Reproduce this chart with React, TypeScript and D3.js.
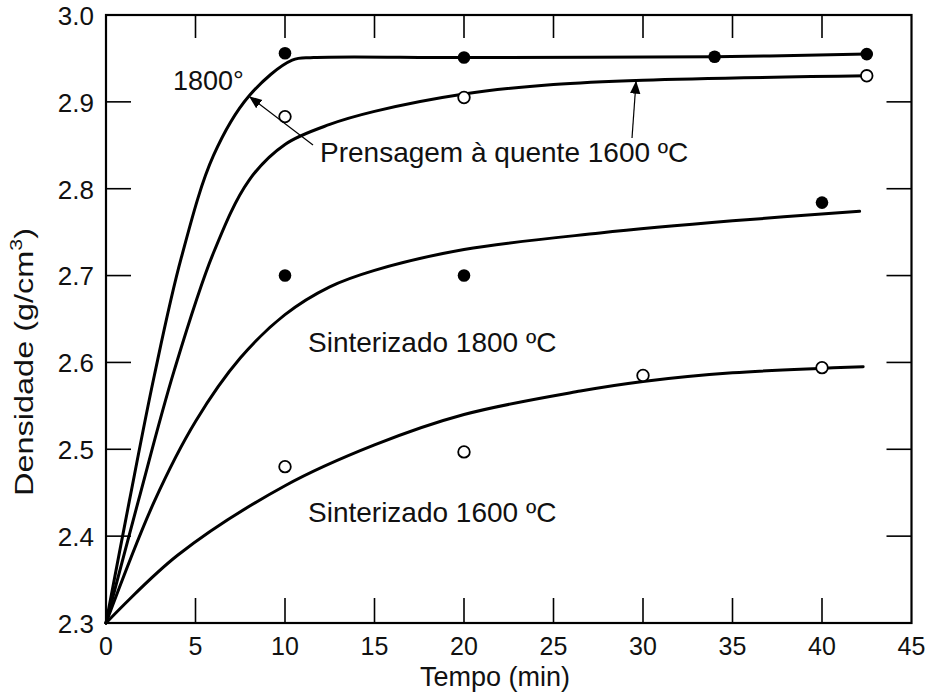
import React from "react";
import * as d3 from "d3";

// Axis ticks
const xTickValues = [0, 5, 10, 15, 20, 25, 30, 35, 40, 45];
const yTickValues = [2.3, 2.4, 2.5, 2.6, 2.7, 2.8, 2.9, 3.0];

// Fitted curves: [time (min), density (g/cm³)]
const hotPress1800Curve: [number, number][] = [
  [0, 2.3], [1.3, 2.44], [2.7, 2.585], [4.2, 2.72], [6.0, 2.838], [8.0, 2.907],
  [10.4, 2.948], [11.6, 2.951], [20, 2.951], [34, 2.952], [42.5, 2.955],
];
const hotPress1600Curve: [number, number][] = [
  [0, 2.3], [1.8, 2.44], [3.8, 2.59], [6.0, 2.726], [8.0, 2.81], [10, 2.851],
  [12.5, 2.874], [15, 2.889], [20, 2.909], [25, 2.92], [30, 2.925], [42.5, 2.93],
];
const sinter1800Curve: [number, number][] = [
  [0, 2.3], [2.7, 2.44], [5, 2.532], [7.5, 2.605], [10, 2.655], [12.5, 2.687],
  [15, 2.706], [20, 2.73], [27.6, 2.749], [35, 2.763], [42.1, 2.774],
];
const sinter1600Curve: [number, number][] = [
  [0, 2.3], [4, 2.378], [10, 2.458], [15, 2.505], [20, 2.54], [26.5, 2.567],
  [30, 2.578], [35, 2.588], [42.3, 2.595],
];

// Measured points
const hotPress1800Points: [number, number][] = [[10, 2.956], [20, 2.951], [34, 2.952], [42.5, 2.955]];
const hotPress1600Points: [number, number][] = [[10, 2.883], [20, 2.905], [42.5, 2.93]];
const sinter1800Points: [number, number][] = [[10, 2.7], [20, 2.7], [40, 2.784]];
const sinter1600Points: [number, number][] = [[10, 2.48], [20, 2.497], [30, 2.585], [40, 2.594]];

const FONT = "'Liberation Sans', Arial, Helvetica, sans-serif";

export default function App() {
  const width = 929;
  const height = 699;
  const x = d3.scaleLinear().domain([0, 45]).range([106, 911.5]);
  const y = d3.scaleLinear().domain([2.3, 3.0]).range([623, 15]);

  const line = d3
    .line<[number, number]>()
    .x((d) => x(d[0]))
    .y((d) => y(d[1]))
    .curve(d3.curveCatmullRom.alpha(0.5));

  const curves = [hotPress1800Curve, hotPress1600Curve, sinter1800Curve, sinter1600Curve];
  const filled = [...hotPress1800Points, ...sinter1800Points];
  const open = [...hotPress1600Points, ...sinter1600Points];

  const innerX = xTickValues.filter((v) => v > 0 && v < 45);
  const innerY = yTickValues.filter((v) => v > 2.3 && v < 3.0);
  const tickLen = 25;

  return (
    <svg
      width={width}
      height={height}
      style={{ position: "absolute", left: 0, top: 0, background: "#fff" }}
      fontFamily={FONT}
    >
      <defs>
        <marker id="arrowHead" viewBox="0 0 10 10" refX="9" refY="5" markerWidth="13" markerHeight="13" markerUnits="userSpaceOnUse" orient="auto">
          <path d="M0,1 L10,5 L0,9 z" fill="#000" />
        </marker>
      </defs>
      <rect x={0} y={0} width={width} height={height} fill="#fff" />

      {/* frame */}
      <rect x={x(0)} y={y(3.0)} width={x(45) - x(0)} height={y(2.3) - y(3.0)} fill="none" stroke="#000" strokeWidth={2.2} />

      {/* inward ticks */}
      {innerX.map((v) => (
        <g key={"xt" + v} stroke="#000" strokeWidth={1.6}>
          <line x1={x(v)} x2={x(v)} y1={y(2.3)} y2={y(2.3) - tickLen} />
          <line x1={x(v)} x2={x(v)} y1={y(3.0)} y2={y(3.0) + tickLen - 2} />
        </g>
      ))}
      {innerY.map((v) => (
        <g key={"yt" + v} stroke="#000" strokeWidth={1.6}>
          <line x1={x(0)} x2={x(0) + tickLen} y1={y(v)} y2={y(v)} />
          <line x1={x(45)} x2={x(45) - tickLen} y1={y(v)} y2={y(v)} />
        </g>
      ))}

      {/* tick labels */}
      {xTickValues.map((v) => (
        <text key={"xl" + v} x={x(v)} y={655} textAnchor="middle" fontSize={25} fill="#111">
          {v}
        </text>
      ))}
      {yTickValues.map((v) => (
        <text key={"yl" + v} x={94} y={y(v) + 3} textAnchor="end" dominantBaseline="middle" fontSize={26} fill="#111">
          {v.toFixed(1)}
        </text>
      ))}

      {/* axis titles */}
      <text x={495} y={686} textAnchor="middle" fontSize={27} fill="#111">
        Tempo (min)
      </text>
      <text
        transform="translate(33,362) rotate(-90)"
        textAnchor="middle"
        fontSize={26}
        fill="#111"
        textLength={268}
        lengthAdjust="spacingAndGlyphs"
      >
        Densidade (g/cm<tspan fontSize={17} dy={-11}>3</tspan><tspan dy={11}>)</tspan>
      </text>

      {/* curves */}
      {curves.map((c, i) => (
        <path key={"c" + i} d={line(c) || ""} fill="none" stroke="#000" strokeWidth={3} strokeLinecap="round" />
      ))}

      {/* data points */}
      {filled.map((d, i) => (
        <circle key={"f" + i} cx={x(d[0])} cy={y(d[1])} r={6.3} fill="#000" />
      ))}
      {open.map((d, i) => (
        <circle key={"o" + i} cx={x(d[0])} cy={y(d[1])} r={5.8} fill="#fff" stroke="#000" strokeWidth={1.8} />
      ))}

      {/* annotations */}
      <line x1={313} y1={145} x2={250} y2={97} stroke="#000" strokeWidth={1.2} markerEnd="url(#arrowHead)" />
      <line x1={632} y1={138} x2={636} y2={82} stroke="#000" strokeWidth={1.2} markerEnd="url(#arrowHead)" />
      <text x={173} y={90} fontSize={27} fill="#111">1800°</text>
      <text x={320} y={162} fontSize={28} fill="#111">Prensagem à quente 1600 ºC</text>
      <text x={308} y={352} fontSize={28} fill="#111">Sinterizado 1800 ºC</text>
      <text x={308} y={522} fontSize={28} fill="#111">Sinterizado 1600 ºC</text>
    </svg>
  );
}
